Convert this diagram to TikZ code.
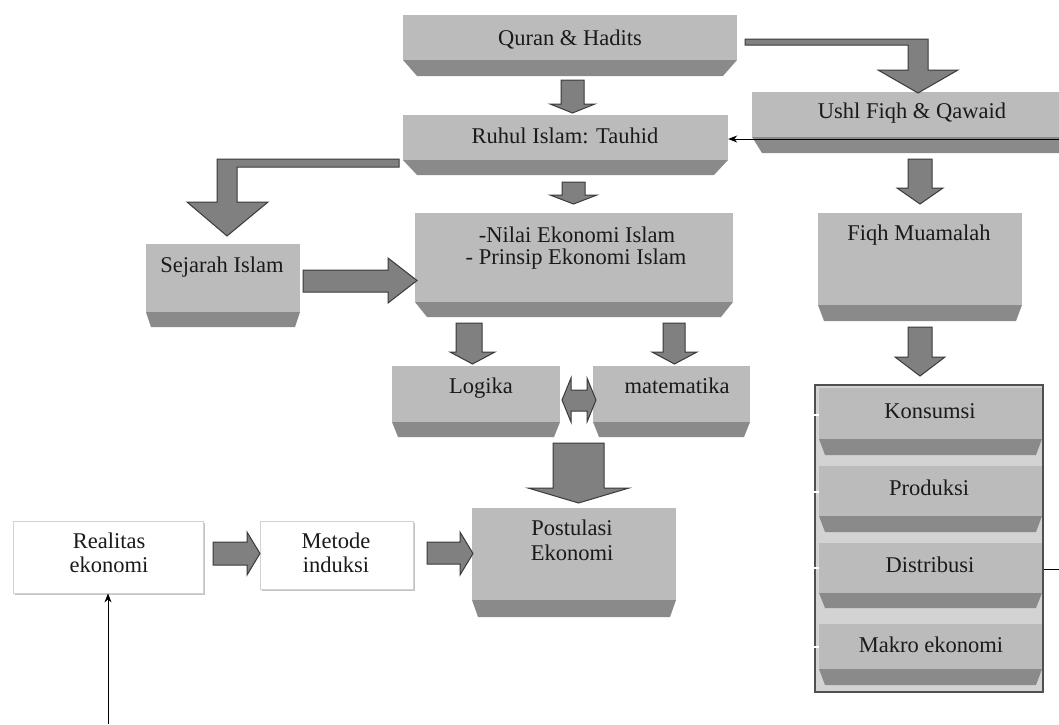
\documentclass[tikz,border=0pt]{standalone}
\usepackage{fontspec}
\setmainfont{Liberation Serif}
\usetikzlibrary{fit,arrows.meta}
\definecolor{topc}{HTML}{BBBBBB}
\definecolor{bandc}{HTML}{8A8A8A}
\definecolor{arrc}{HTML}{808080}
\definecolor{arrd}{HTML}{3A3A3A}
\definecolor{contc}{HTML}{D3D3D3}
\definecolor{contd}{HTML}{505050}
\definecolor{wbord}{HTML}{D2D2D2}
\definecolor{wshad}{HTML}{C4C4C4}
\definecolor{txt}{HTML}{1A1A1A}
\tikzset{
  topface/.style={fill=topc, draw=none, inner sep=0pt},
  blockarr/.style={fill=arrc, draw=arrd, line width=1pt, line join=miter},
  lbl/.style={anchor=base, inner sep=0pt, text=txt, font=\fontsize{22.5}{25}\selectfont},
  whitebox/.style={fill=white, draw=wbord, line width=0.8pt, inner sep=0pt},
  thin/.style={draw=black, line width=1pt},
}
% name, x1, ytop, x2, yband, ybottom, inset
\newcommand\bbox[7]{%
  \fill[bandc] (#2,#5) -- (#4,#5) -- ({#4-#7},#6) -- ({#2+#7},#6) -- cycle;
  \node[topface, fit={(#2,#3)(#4,#5)}] (#1) {};}
% x1, x2, ytop, yhead, hx1, hx2, ytip
\newcommand\darr[7]{%
  \filldraw[blockarr] (#1,#3) -- (#2,#3) -- (#2,#4) -- (#6,#4) -- ({(#5+#6)/2},#7) -- (#5,#4) -- (#1,#4) -- cycle;}
% xleft, xhead, xtip, sy1, sy2, hy1, hy2
\newcommand\rarr[7]{%
  \filldraw[blockarr] (#1,#4) -- (#2,#4) -- (#2,#6) -- (#3,{(#6+#7)/2}) -- (#2,#7) -- (#2,#5) -- (#1,#5) -- cycle;}
\begin{document}
\begin{tikzpicture}[x=1pt, y=-1pt]
\useasboundingbox (0,0) rectangle (1059,724);
\fill[white] (0,0) rectangle (1059,724);

% container of the right column
\node[fill=contc, draw=contd, line width=1.2pt, inner sep=0pt, fit={(815,385)(1043,692)}] (cont) {};

% 3D boxes
\bbox{quran}{403}{15}{737}{60}{76}{14}
\bbox{ruhul}{403}{115}{728}{160}{175}{14}
\bbox{ushl}{752}{92}{1075}{137}{153}{10}
\bbox{sejarah}{146}{244}{300}{312}{327}{5}
\bbox{nilai}{415}{213}{733}{302}{317}{12}
\bbox{fiqh}{818}{213}{1022}{305}{321}{6}
\bbox{logika}{392}{366}{560}{422}{437}{6}
\bbox{mate}{593}{366}{750}{422}{437}{6}
\bbox{postul}{472}{508}{676}{600}{617}{6}
\bbox{kons}{819}{388}{1042}{439}{455}{6}
\bbox{prod}{819}{466}{1042}{516}{532}{6}
\bbox{dist}{819}{543}{1042}{593}{608}{6}
\bbox{makro}{819}{624}{1042}{669}{685}{6}

% white ticks on the container's left edge
\foreach \yy in {415,492,568,647} \draw[white, line width=2pt] (812,\yy) -- (819,\yy);

% white boxes
\fill[wshad] (15,523) rectangle (205,595);
\node[whitebox, fit={(13,521)(203,593)}] (real) {};
\fill[wshad] (262,523) rectangle (415,591);
\node[whitebox, fit={(260,521)(413,589)}] (metode) {};

% texts
\node[lbl] (tq) at (570,45) {Quran \& Hadits};
\node[lbl] (tr) at (565,143) {Ruhul Islam: Tauhid};
\node[lbl] (tu) at (912,118) {Ushl Fiqh \& Qawaid};
\node[lbl] (ts) at (222,272) {Sejarah Islam};
\node[lbl] (tn1) at (577,242) {-Nilai Ekonomi Islam};
\node[lbl] (tn2) at (576,264) {- Prinsip Ekonomi Islam};
\node[lbl] (tf) at (919,240) {Fiqh Muamalah};
\node[lbl] (tl) at (481,393) {Logika};
\node[lbl] (tm) at (677,393) {matematika};
\node[lbl] (tp1) at (572,535) {Postulasi};
\node[lbl] (tp2) at (572,560) {Ekonomi};
\node[lbl] (tre1) at (109,548) {Realitas};
\node[lbl] (tre2) at (109,572) {ekonomi};
\node[lbl] (tme1) at (336,548) {Metode};
\node[lbl] (tme2) at (336,572) {induksi};
\node[lbl] (tk) at (930,418) {Konsumsi};
\node[lbl] (tpr) at (929,495) {Produksi};
\node[lbl] (td) at (930,572) {Distribusi};
\node[lbl] (tma) at (931,652) {Makro ekonomi};

% block arrows
\darr{561}{584}{80}{104}{550}{595}{113}
\darr{562}{585}{182}{195}{550}{597}{204}
\darr{456}{482}{323}{352}{450}{495}{364}
\darr{663}{685}{323}{352}{652}{697}{364}
\darr{553}{604}{443}{488}{528}{629}{503}
\darr{908}{932}{327}{357}{895}{945}{376}
\darr{908}{932}{159}{188}{897}{943}{204}
\rarr{303}{388}{417}{270}{292}{258}{303}
\rarr{213}{247}{260}{542}{565}{532}{575}
\rarr{427}{460}{473}{542}{564}{532}{575}
% double arrow Logika <-> matematika
\filldraw[blockarr] (562,400) -- (571,378) -- (571,390) -- (587,390) -- (587,378) -- (596,400)
  -- (587,422) -- (587,411) -- (571,411) -- (571,422) -- cycle;
% elbow arrow Quran -> Ushl
\filldraw[blockarr] (745,39) -- (928,39) -- (928,70) -- (958,70) -- (918,93) -- (878,70) -- (908,70) -- (908,45) -- (745,45) -- cycle;
% elbow arrow Ruhul -> Sejarah
\filldraw[blockarr] (399,159) -- (217,159) -- (217,202) -- (187,202) -- (227,236) -- (268,202) -- (237,202) -- (237,167) -- (399,167) -- cycle;

% thin connectors
\coordinate (rin) at (1059,139);
\draw[thin, -{Stealth[length=9pt, width=7pt]}] (rin) -- (ruhul.east |- rin);
\coordinate (bot) at (108,724);
\draw[thin, -{Stealth[length=9pt, width=7pt]}] (bot) -- (real.south);
\coordinate (rout) at (1059,569);
\draw[thin] (cont.east |- rout) -- (rout);
\end{tikzpicture}
\end{document}
